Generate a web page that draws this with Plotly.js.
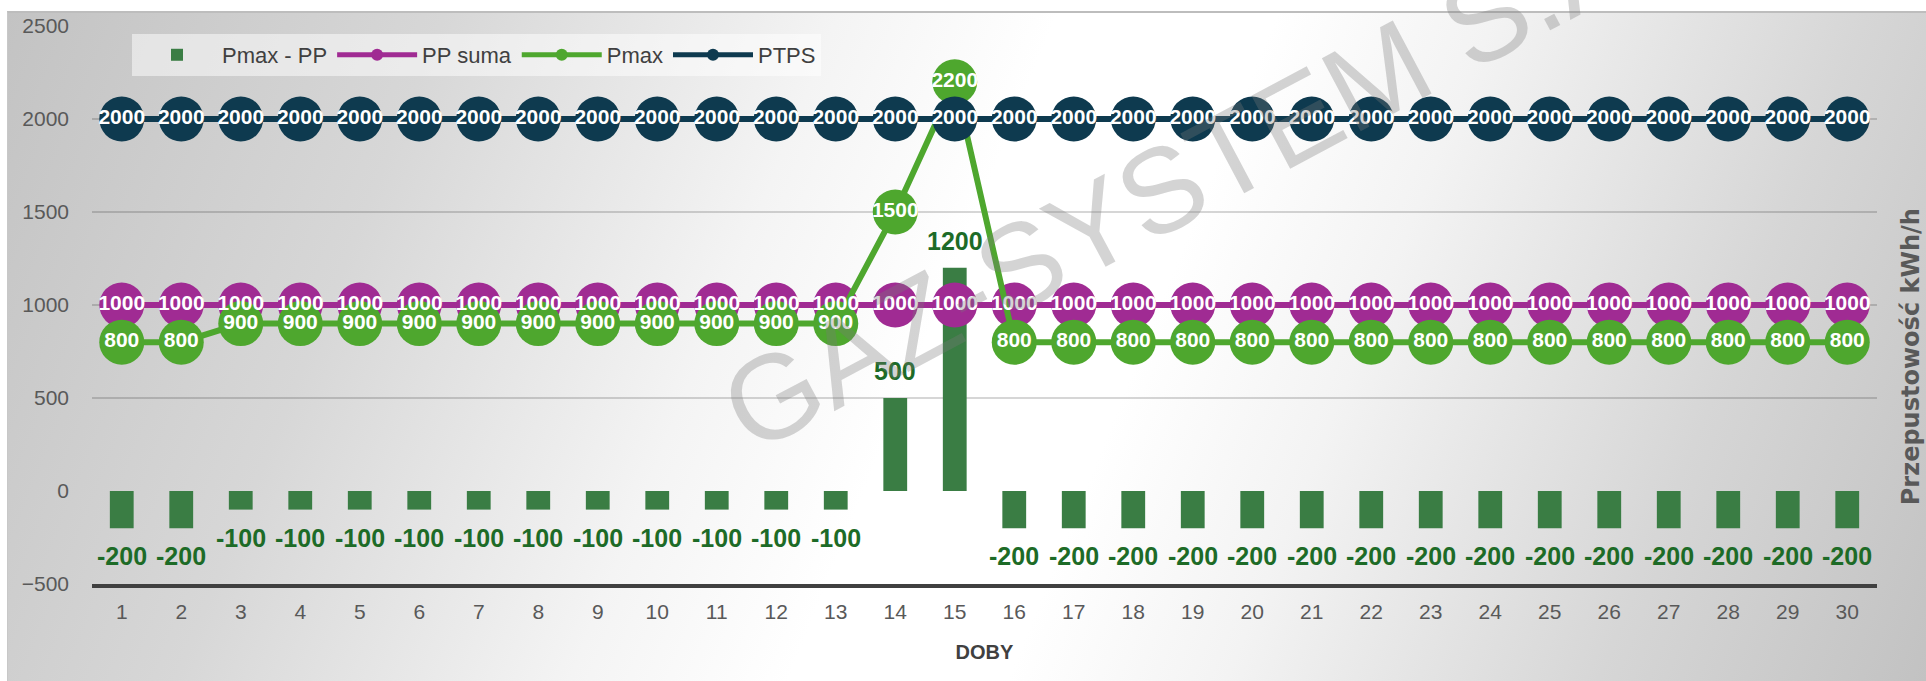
<!DOCTYPE html>
<html>
<head>
<meta charset="utf-8">
<script src="https://cdn.plot.ly/plotly-3.0.1.min.js"></script>
<style>
  html, body { margin: 0; padding: 0; background: #ffffff; }
  #wrap { position: relative; width: 1926px; height: 681px; overflow: hidden; background: #ffffff; }
  #bg { position: absolute; left: 7px; top: 11px; right: 0; bottom: 0;
        border-top: 2px solid #bdbdbd; border-left: 1px solid #c8c8c8;
        background: linear-gradient(112deg, #c3c3c3 0%, #d7d7d7 20%, #f4f4f4 38%, #ffffff 48%, #ffffff 58%, #f3f3f3 68%, #d6d6d6 85%, #c2c2c2 100%); }
  #chart { position: absolute; left: 0; top: 0; width: 1926px; height: 681px; }
</style>
</head>
<body>
<div id="wrap">
  <div id="bg"></div>
  <div id="chart"></div>
</div>
<script>
// ---- data ----
const days = [1,2,3,4,5,6,7,8,9,10,11,12,13,14,15,16,17,18,19,20,21,22,23,24,25,26,27,28,29,30];
const pmaxMinusPP = [-200,-200,-100,-100,-100,-100,-100,-100,-100,-100,-100,-100,-100,500,1200,
                     -200,-200,-200,-200,-200,-200,-200,-200,-200,-200,-200,-200,-200,-200,-200];
const ppSuma = [1000,1000,1000,1000,1000,1000,1000,1000,1000,1000,1000,1000,1000,1000,1000,
                1000,1000,1000,1000,1000,1000,1000,1000,1000,1000,1000,1000,1000,1000,1000];
const pmax = [800,800,900,900,900,900,900,900,900,900,900,900,900,1500,2200,
              800,800,800,800,800,800,800,800,800,800,800,800,800,800,800];
const ptps = [2000,2000,2000,2000,2000,2000,2000,2000,2000,2000,2000,2000,2000,2000,2000,
              2000,2000,2000,2000,2000,2000,2000,2000,2000,2000,2000,2000,2000,2000,2000];
const seriesNames = ['Pmax - PP', 'PP suma', 'Pmax', 'PTPS'];
const xTitle = 'DOBY';
const yTitle = 'Przepustowość kWh/h';
const watermark = 'GAZ-SYSTEM S.A.';

// ---- styles ----
const FONT = 'Liberation Sans, Arial, sans-serif';
const cBar = '#3a7d44', cBarLabel = '#1d6b27';
const cPP = '#a02b93', cPmax = '#4ea72e', cPTPS = '#0e3a4f';
const MS = 45, LW = 6;

function lineTrace(name, y, color) {
  return { type: 'scatter', mode: 'lines+markers', name: name, x: days, y: y,
           line: { color: color, width: LW },
           marker: { color: color, size: MS, line: { width: 0 } },
           hoverinfo: 'skip' };
}
function labelTrace(y) {
  return { type: 'scatter', mode: 'text', x: days, y: y, text: y.map(String),
           textposition: 'middle center', showlegend: false, hoverinfo: 'skip',
           textfont: { family: FONT, size: 21, color: '#ffffff', weight: 'bold' } };
}

const traces = [
  { type: 'bar', name: seriesNames[0], x: days, y: pmaxMinusPP,
    marker: { color: cBar, line: { width: 0 } }, hoverinfo: 'skip' },
  lineTrace(seriesNames[1], ppSuma, cPP),
  lineTrace(seriesNames[2], pmax, cPmax),
  lineTrace(seriesNames[3], ptps, cPTPS),
  labelTrace(ppSuma),
  labelTrace(pmax),
  labelTrace(ptps)
];

const annotations = pmaxMinusPP.map((v, i) => ({
  x: days[i], y: v, xref: 'x', yref: 'y', text: String(v), showarrow: false,
  yshift: v >= 0 ? 27 : -28,
  font: { family: FONT, size: 25, color: cBarLabel, weight: 'bold' }
}));
annotations.push({
  xref: 'paper', yref: 'paper', x: 1.019, y: 0.408, text: yTitle, showarrow: false,
  textangle: -90, xanchor: 'center', yanchor: 'middle',
  font: { family: 'DejaVu Sans, sans-serif', size: 24, color: '#595959', weight: 'bold' }
});
annotations.push({
  xref: 'paper', yref: 'paper', x: 0.6155, y: 0.735, text: watermark, showarrow: false,
  textangle: -28, xanchor: 'center', yanchor: 'middle',
  font: { family: FONT, size: 120, color: 'rgba(120,120,120,0.32)' }
});

const layout = {
  width: 1926, height: 681,
  margin: { l: 92, r: 49, t: 26, b: 97, pad: 0 },
  paper_bgcolor: 'rgba(0,0,0,0)', plot_bgcolor: 'rgba(0,0,0,0)',
  font: { family: FONT, color: '#595959', size: 20 },
  bargap: 0.6,
  showlegend: true,
  legend: { orientation: 'h', x: 0.0224, xanchor: 'left', y: 0.9857, yanchor: 'top',
            bgcolor: 'rgba(255,255,255,0.5)', borderwidth: 0,
            font: { family: FONT, size: 22, color: '#404040' },
            itemsizing: 'constant', itemwidth: 80, itemgap: 52, traceorder: 'normal' },
  xaxis: { type: 'linear', range: [0.5, 30.5], tickmode: 'linear', tick0: 1, dtick: 1,
           showgrid: false, zeroline: false,
           showline: true, linecolor: '#404040', linewidth: 4,
           ticks: '', ticklabelstandoff: 6,
           tickfont: { family: FONT, size: 21, color: '#595959' },
           title: { text: xTitle, standoff: 24, font: { family: FONT, size: 20, color: '#404040', weight: 'bold' } },
           fixedrange: true },
  yaxis: { range: [-500, 2500], dtick: 500, tick0: 0, showgrid: true,
           gridcolor: 'rgba(0,0,0,0.16)', gridwidth: 1.5,
           zeroline: true, zerolinecolor: 'rgba(0,0,0,0)', zerolinewidth: 1,
           showline: false, ticks: '', ticklabelstandoff: 22,
           tickfont: { family: FONT, size: 21, color: '#595959' },
           fixedrange: true },
  annotations: annotations
};

Plotly.newPlot('chart', traces, layout, { displayModeBar: false, staticPlot: true });
</script>
</body>
</html>
